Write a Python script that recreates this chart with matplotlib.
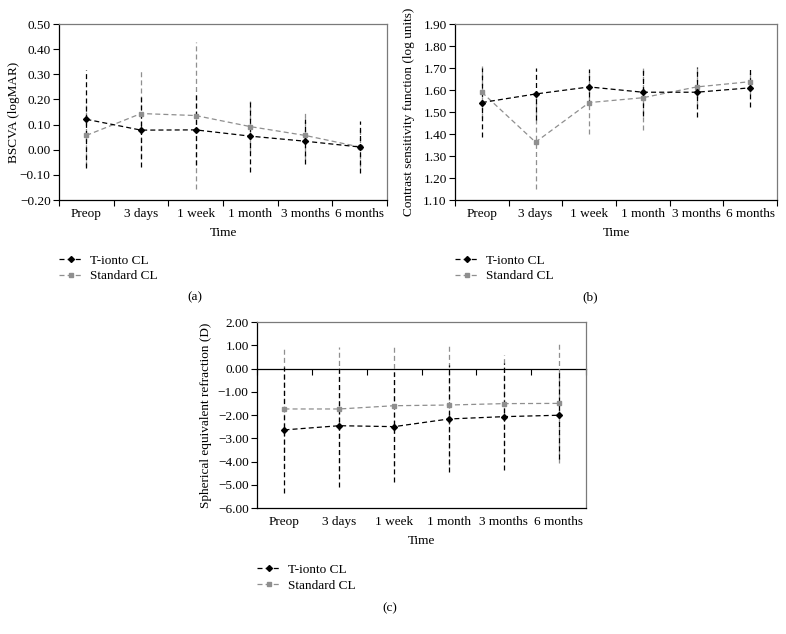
import numpy as np
import matplotlib
matplotlib.use("Agg")
import matplotlib.pyplot as plt

plt.rcParams['font.family'] = ['Liberation Serif', 'DejaVu Serif']
plt.rcParams['font.size'] = 9.5

times = ["Preop", "3 days", "1 week", "1 month", "3 months", "6 months"]

# (a) BSCVA (logMAR)
bscva_tionto = [0.121, 0.078, 0.079, 0.054, 0.034, 0.011]
bscva_tionto_sd = [0.195, 0.145, 0.14, 0.142, 0.09, 0.102]
bscva_std = [0.057, 0.144, 0.136, 0.092, 0.057, 0.011]
bscva_std_sd = [0.12, 0.176, 0.293, 0.1, 0.093, 0.08]

# (b) contrast sensitivity (log units)
cs_tionto = [1.543, 1.582, 1.614, 1.590, 1.590, 1.610]
cs_tionto_sd = [0.158, 0.12, 0.08, 0.11, 0.113, 0.088]
cs_std = [1.590, 1.363, 1.543, 1.565, 1.614, 1.638]
cs_std_sd = [0.118, 0.215, 0.143, 0.145, 0.085, 0.055]

# (c) spherical equivalent refraction (D)
se_tionto = [-2.64, -2.46, -2.50, -2.17, -2.07, -2.01]
se_tionto_sd = [2.70, 2.62, 2.36, 2.30, 2.29, 1.90]
se_std = [-1.74, -1.74, -1.60, -1.57, -1.51, -1.50]
se_std_sd = [2.56, 2.67, 2.60, 2.57, 2.11, 2.57]

BLACK = "#000000"
GREY = "#8f8f8f"
DASH = (0, (4, 2.5))


def draw(ax, tionto, tionto_sd, std, std_sd, ylim, yticks, ylabel,
         ylab_x, leg_y, zero_line=False):
    x = np.arange(len(times))
    tionto = np.array(tionto)
    std = np.array(std)
    # error bars (grey first, black on top)
    ax.vlines(x, std - np.array(std_sd), std + np.array(std_sd),
              colors=GREY, linestyles=DASH, lw=0.9, zorder=2)
    ax.vlines(x, tionto - np.array(tionto_sd), tionto + np.array(tionto_sd),
              colors=BLACK, linestyles=DASH, lw=0.9, zorder=3)
    ax.plot(x, tionto, color=BLACK, ls=DASH, lw=0.9, marker='D', ms=3,
            mfc=BLACK, mec=BLACK, label="T-ionto CL", zorder=5)
    ax.plot(x, std, color=GREY, ls=DASH, lw=0.9, marker='s', ms=3,
            mfc=GREY, mec=GREY, label="Standard CL", zorder=4)

    ax.set_xlim(-0.5, len(times) - 0.5)
    ax.set_ylim(*ylim)
    ax.set_yticks(yticks)
    ax.set_yticklabels(["%.2f" % v if v >= 0 else "\u2212%.2f" % -v for v in yticks])
    ax.set_xticks(x)
    ax.set_xticklabels(times)
    ax.set_xticks(np.arange(-0.5, len(times)), minor=True)
    ax.tick_params(axis='x', which='major', length=0, pad=6)
    ax.tick_params(axis='y', which='major', direction='out', length=4, width=0.8, pad=2)
    ax.tick_params(axis='y', which='minor', length=0)
    ax.set_xlabel("Time", labelpad=5)
    ax.set_ylabel(ylabel)
    ax.yaxis.set_label_coords(ylab_x, 0.5)

    for s in ['top', 'right']:
        ax.spines[s].set_color('#7a7a7a')
        ax.spines[s].set_linewidth(0.9)
    ax.spines['left'].set_color(BLACK)
    ax.spines['bottom'].set_color(BLACK)
    ax.spines['left'].set_linewidth(0.9)
    ax.spines['bottom'].set_linewidth(0.9)

    if zero_line:
        ax.tick_params(axis='x', which='minor', length=0)
        sec = ax.secondary_xaxis(0, transform=ax.transData)
        sec.set_xticks(np.arange(-0.5, len(times)))
        sec.set_xticklabels([])
        sec.tick_params(direction='out', length=4, width=0.8)
        sec.spines['bottom'].set_linewidth(0.9)
        sec.spines['bottom'].set_color(BLACK)
    else:
        ax.tick_params(axis='x', which='minor', direction='out', length=4, width=0.8)

    ax.legend(loc='upper left', bbox_to_anchor=(0.0, leg_y), frameon=False,
              handlelength=1.75, handletextpad=0.6, labelspacing=0.25,
              borderpad=0, borderaxespad=0, numpoints=1)


fig = plt.figure(figsize=(7.86, 6.34), dpi=100)

ax1 = fig.add_axes([0.0751, 0.6845, 0.4173, 0.2776])
draw(ax1, bscva_tionto, bscva_tionto_sd, bscva_std, bscva_std_sd,
     (-0.2, 0.5), np.round(np.arange(-0.2, 0.51, 0.1), 2), "BSCVA (logMAR)",
     -0.119, -0.31)

ax2 = fig.add_axes([0.5789, 0.6845, 0.4097, 0.2776])
draw(ax2, cs_tionto, cs_tionto_sd, cs_std, cs_std_sd,
     (1.1, 1.9), np.round(np.arange(1.1, 1.91, 0.1), 2),
     "Contrast sensitivity function (log units)", -0.124, -0.31)

ax3 = fig.add_axes([0.3270, 0.1987, 0.4186, 0.2934])
draw(ax3, se_tionto, se_tionto_sd, se_std, se_std_sd,
     (-6, 2), np.arange(-6.0, 2.01, 1.0), "Spherical equivalent refraction (D)",
     -0.137, -0.30, zero_line=True)

fig.text(195 / 786, 1 - 297 / 634, "(a)", ha='center', va='center')
fig.text(590 / 786, 1 - 297 / 634, "(b)", ha='center', va='center')
fig.text(390 / 786, 1 - 608 / 634, "(c)", ha='center', va='center')

fig.savefig("out.png", dpi=100)
